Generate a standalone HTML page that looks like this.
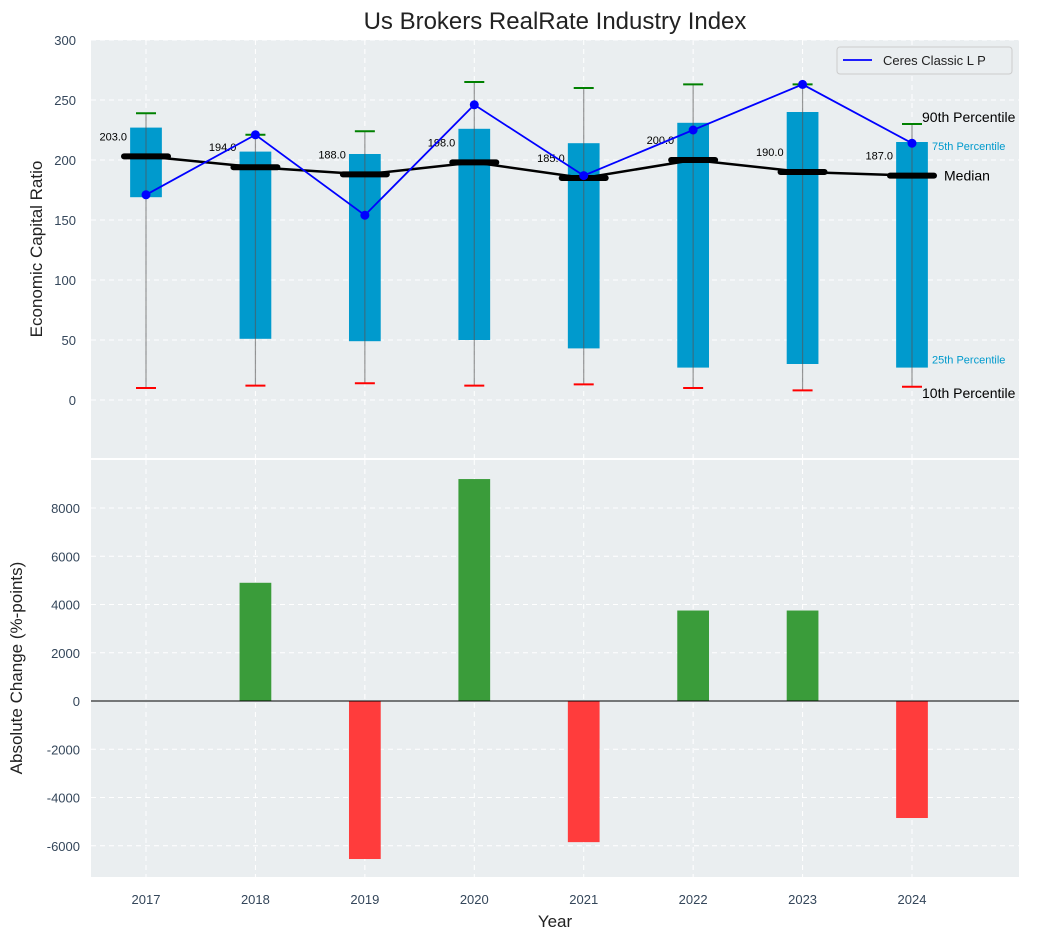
<!DOCTYPE html>
<html><head><meta charset="utf-8"><style>
body{margin:0;background:#fff;}
svg text{font-family:"Liberation Sans",sans-serif;}
</style></head><body>
<svg id="c" width="1043" height="940" xmlns="http://www.w3.org/2000/svg"></svg>
<script>
const years=[2017,2018,2019,2020,2021,2022,2023,2024];
const q1=[169,51,49,50,43,27,30,27];
const q3=[227,207,205,226,214,231,240,215];
const median=[203,194,188,198,185,200,190,187];
const p10=[10,12,14,12,13,10,8,11];
const p90=[239,221,224,265,260,263,263,230];
const ceres=[171,221,154,246,187,225,263,214];
const change=[0,4900,-6550,9200,-5850,3750,3750,-4850];
const topTicks=[0,50,100,150,200,250,300];
const botTicks=[-6000,-4000,-2000,0,2000,4000,6000,8000];

const NS="http://www.w3.org/2000/svg";
const svg=document.getElementById('c');
function el(t,a,p){const e=document.createElementNS(NS,t);for(const k in a)e.setAttribute(k,a[k]);(p||svg).appendChild(e);return e;}
const L=91,R=1019;
const x=v=>146+(v-2017)*(912-146)/7;
const yT=v=>400-v*1.2;
const yB=v=>701-v*193/8000;
const bw=0.29*(912-146)/7;

let p1=el('rect',{x:L,y:40,width:R-L,height:418,fill:'#eaeef0'});

let p2=el('rect',{x:L,y:460,width:R-L,height:417,fill:'#eaeef0'});


years.forEach(v=>{
 el('line',{x1:x(v),x2:x(v),y1:40,y2:458,stroke:'#fff','stroke-dasharray':'5,4','stroke-width':1});
 el('line',{x1:x(v),x2:x(v),y1:460,y2:877,stroke:'#fff','stroke-dasharray':'5,4','stroke-width':1});
 let t=el('text',{x:x(v),y:904,'font-size':13,fill:'#34465a','text-anchor':'middle'});t.textContent=v;
 
});
topTicks.forEach(v=>{
 el('line',{x1:L,x2:R,y1:yT(v),y2:yT(v),stroke:'#fff','stroke-dasharray':'5,4'});
 let t=el('text',{x:76,y:yT(v)+5,'font-size':13,fill:'#34465a','text-anchor':'end'});t.textContent=v;
 
});
botTicks.forEach(v=>{
 el('line',{x1:L,x2:R,y1:yB(v),y2:yB(v),stroke:'#fff','stroke-dasharray':'5,4'});
 let t=el('text',{x:80,y:yB(v)+5,'font-size':13,fill:'#34465a','text-anchor':'end'});t.textContent=v;
 
});

years.forEach((v,i)=>{
 let b=el('rect',{x:x(v)-bw/2,y:yT(q3[i]),width:bw,height:yT(q1[i])-yT(q3[i]),fill:'#009acd'});
 
 el('line',{x1:x(v),x2:x(v),y1:yT(p90[i]),y2:yT(p10[i]),stroke:'#555','stroke-opacity':0.6,'stroke-width':1.2});
 let g=el('line',{x1:x(v)-10,x2:x(v)+10,y1:yT(p90[i]),y2:yT(p90[i]),stroke:'green','stroke-width':2});
 
 let r=el('line',{x1:x(v)-10,x2:x(v)+10,y1:yT(p10[i]),y2:yT(p10[i]),stroke:'red','stroke-width':2});
 
});
let md=el('polyline',{points:years.map((v,i)=>x(v)+','+yT(median[i])).join(' '),fill:'none',stroke:'#000','stroke-width':2.5});

years.forEach((v,i)=>{
 let m=el('line',{x1:x(v)-22,x2:x(v)+22,y1:yT(median[i]),y2:yT(median[i]),stroke:'#000','stroke-width':6,'stroke-linecap':'round'});
 
 let t=el('text',{x:x(v)-19,y:yT(median[i])-16,'font-size':11,fill:'#000','text-anchor':'end'});t.textContent=median[i].toFixed(1);
 
});
let cl=el('polyline',{points:years.map((v,i)=>x(v)+','+yT(ceres[i])).join(' '),fill:'none',stroke:'#0000ff','stroke-width':1.8});

years.forEach((v,i)=>{
 let c=el('circle',{cx:x(v),cy:yT(ceres[i]),r:4.5,fill:'#0000ff'});
 
});
const last=years.length-1,xl=x(years[last]);
[[p90[last],'90th Percentile',14,'#000',10,-2],[q3[last],'75th Percentile',11,'#009acd',20,8],[median[last],'Median',14,'#000',32,5],[q1[last],'25th Percentile',11,'#009acd',20,-4],[p10[last],'10th Percentile',14,'#000',10,11]].forEach(a=>{
 let t=el('text',{x:xl+a[4],y:yT(a[0])+a[5],'font-size':a[2],fill:a[3]});t.textContent=a[1];
 
});
let lg=el('g',{});
el('rect',{x:837,y:47,width:175,height:27,fill:'#eaeef0',stroke:'#ccc',rx:3},lg);
el('line',{x1:843,x2:872,y1:60,y2:60,stroke:'#0000ff','stroke-width':1.8},lg);
let lt=el('text',{x:883,y:65,'font-size':13,fill:'#222'},lg);lt.textContent='Ceres Classic L P';

years.forEach((v,i)=>{
 const val=change[i];if(val===0)return;
 let b=el('rect',{x:x(v)-bw/2,y:Math.min(yB(0),yB(val)),width:bw,height:Math.abs(yB(val)-yB(0)),fill:val>0?'#3a9c3a':'#ff3c3c'});
 
});
el('line',{x1:L,x2:R,y1:yB(0),y2:yB(0),stroke:'#000','stroke-width':1});

let tt=el('text',{x:555,y:29,'font-size':24,fill:'#222','text-anchor':'middle'});tt.textContent='Us Brokers RealRate Industry Index';

let ya=el('text',{x:0,y:0,'font-size':17,fill:'#222','text-anchor':'middle',transform:'translate(42,249) rotate(-90)'});ya.textContent='Economic Capital Ratio';

let yb=el('text',{x:0,y:0,'font-size':17,fill:'#222','text-anchor':'middle',transform:'translate(22,668) rotate(-90)'});yb.textContent='Absolute Change (%-points)';

let xa=el('text',{x:555,y:927,'font-size':17,fill:'#222','text-anchor':'middle'});xa.textContent='Year';

</script>
</body></html>
